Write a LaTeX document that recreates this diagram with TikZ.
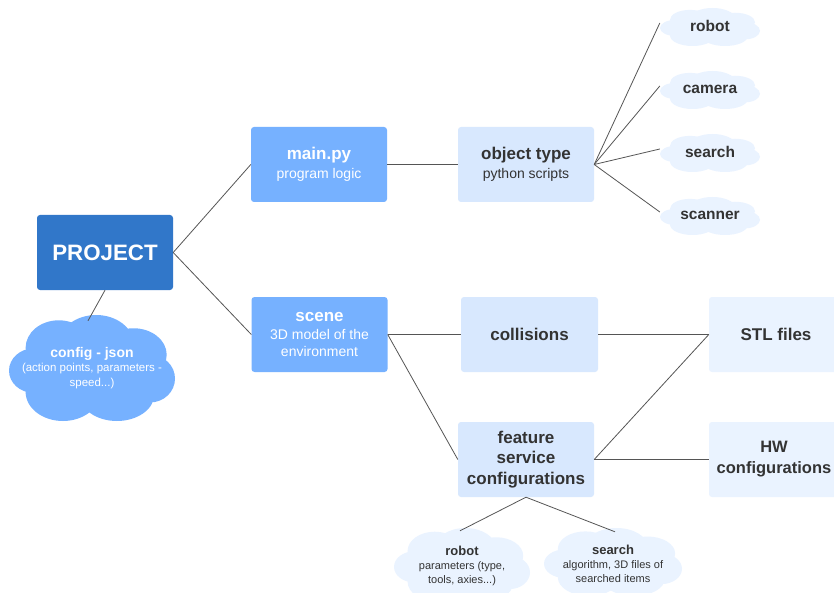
\documentclass[tikz,border=0pt]{standalone}
\usepackage{fontspec}
\setmainfont{Liberation Sans}
\definecolor{dblue}{HTML}{3177C9}
\definecolor{mblue}{HTML}{76B1FF}
\definecolor{lblue}{HTML}{D8E8FE}
\definecolor{xblue}{HTML}{EAF3FF}
\definecolor{txt}{HTML}{333333}
\definecolor{ln}{HTML}{555555}
\newcommand{\fsz}[2]{\fontsize{#1}{#2}\selectfont}
% cloud drawn from overlapping ellipses: centre x, centre y, half width, half height, colour
\newcommand{\cloudfill}[5]{%
  \begin{scope}[shift={(#1,#2)},xscale=#3,yscale=#4]
    \fill[#5] (0,0) ellipse[x radius=0.85,y radius=0.6];
    \fill[#5] (-0.4,-0.38) ellipse[x radius=0.4,y radius=0.52];
    \fill[#5] (0.05,-0.45) ellipse[x radius=0.45,y radius=0.55];
    \fill[#5] (0.5,-0.25) ellipse[x radius=0.4,y radius=0.5];
    \fill[#5] (-0.7,0.05) ellipse[x radius=0.3,y radius=0.42];
    \fill[#5] (0.7,0.2) ellipse[x radius=0.3,y radius=0.45];
    \fill[#5] (-0.35,0.45) ellipse[x radius=0.45,y radius=0.55];
    \fill[#5] (0.3,0.5) ellipse[x radius=0.45,y radius=0.5];
  \end{scope}}
\begin{document}
\begin{tikzpicture}[x=1pt,y=-1pt,
  box/.style={rounded corners=3pt, minimum width=136pt, minimum height=75pt, align=center, inner sep=2pt},
  midbox/.style={box, fill=mblue, text=white},
  litebox/.style={box, fill=lblue, text=txt},
  palebox/.style={box, fill=xblue, text=txt},
  cloudn/.style={rectangle, align=center, inner sep=0pt},
  conn/.style={draw=ln, line width=0.8pt}]
\useasboundingbox (0,0) rectangle (834,593);
\clip (0,0) rectangle (834,593);
\fill[white] (0,0) rectangle (834,593);

\node[box, fill=dblue, text=white, font=\bfseries\fsz{22.3}{25}] (proj) at (105,252.5) {PROJECT};
\node[midbox, font=\fsz{14}{19}] (main) at (319,164.5) {{\bfseries\fsz{17}{19}main.py}\\program logic};
\node[midbox, font=\fsz{14}{17.5}] (scene) at (319.5,334.5) {{\bfseries\fsz{17}{19}scene}\\3D model of the\\environment};
\node[litebox, font=\fsz{14}{19}] (obj) at (526,164.5) {{\bfseries\fsz{17}{19}object type}\\python scripts};
\node[litebox, minimum width=137pt, font=\bfseries\fsz{17}{19}] (coll) at (529.5,334.5) {collisions};
\node[litebox, font=\bfseries\fsz{17}{20.5}] (feat) at (526,459.5) {feature\\service\\configurations};
\node[palebox, minimum width=134pt, font=\bfseries\fsz{17}{19}] (stl) at (776,334.5) {STL files};
\node[palebox, minimum width=130pt, font=\bfseries\fsz{16.5}{21}] (hw) at (774,459.5) {HW\\configurations};

\cloudfill{92}{368}{83}{53}{mblue}
\node[cloudn, text=white, minimum width=166pt, minimum height=106pt, font=\fsz{11.5}{14.5}] (conf) at (92,368)
  {{\bfseries\fsz{14}{17}config - json}\\(action points, parameters -\\speed...)};

\cloudfill{710}{27}{50}{19}{xblue}
\cloudfill{710}{90}{50}{19}{xblue}
\cloudfill{710}{153}{50}{19}{xblue}
\cloudfill{710}{216}{50}{19}{xblue}
\node[cloudn, text=txt, font=\bfseries\fsz{15.5}{18}, minimum width=100pt, minimum height=38pt] (crob) at (710,26) {robot};
\node[cloudn, text=txt, font=\bfseries\fsz{15.5}{18}, minimum width=100pt, minimum height=38pt] (ccam) at (710,89) {camera};
\node[cloudn, text=txt, font=\bfseries\fsz{15.5}{18}, minimum width=100pt, minimum height=38pt] (csea) at (710,152) {search};
\node[cloudn, text=txt, font=\bfseries\fsz{15.5}{18}, minimum width=100pt, minimum height=38pt] (csca) at (710,215) {scanner};

\cloudfill{462}{565}{68}{37}{xblue}
\cloudfill{613}{562}{69}{34}{xblue}
\node[cloudn, text=txt, minimum width=136pt, minimum height=74pt, font=\fsz{11}{14}] (brob) at (462,566)
  {{\bfseries\fsz{13}{16}robot}\\parameters (type,\\tools, axies...)};
\node[cloudn, text=txt, minimum width=138pt, minimum height=68pt, font=\fsz{11}{14}] (bsea) at (613,564)
  {{\bfseries\fsz{13}{16}search}\\algorithm, 3D files of\\searched items};

\draw[conn] (proj.east) -- (main.west);
\draw[conn] (proj.east) -- (scene.west);
\draw[conn] (proj.south) -- ([xshift=-4pt,yshift=-6pt]conf.north);
\draw[conn] (main.east) -- (obj.west);
\draw[conn] (obj.east) -- ([yshift=3pt]crob.west);
\draw[conn] (obj.east) -- ([yshift=3pt]ccam.west);
\draw[conn] (obj.east) -- ([yshift=3pt]csea.west);
\draw[conn] (obj.east) -- ([yshift=3pt]csca.west);
\draw[conn] (scene.east) -- (coll.west);
\draw[conn] (scene.east) -- (feat.west);
\draw[conn] (coll.east) -- (stl.west);
\draw[conn] (feat.east) -- (stl.west);
\draw[conn] (feat.east) -- (hw.west);
\draw[conn] (feat.south) -- ([xshift=-2pt,yshift=-2pt]brob.north);
\draw[conn] (feat.south) -- ([xshift=2pt,yshift=-2pt]bsea.north);
\end{tikzpicture}
\end{document}
